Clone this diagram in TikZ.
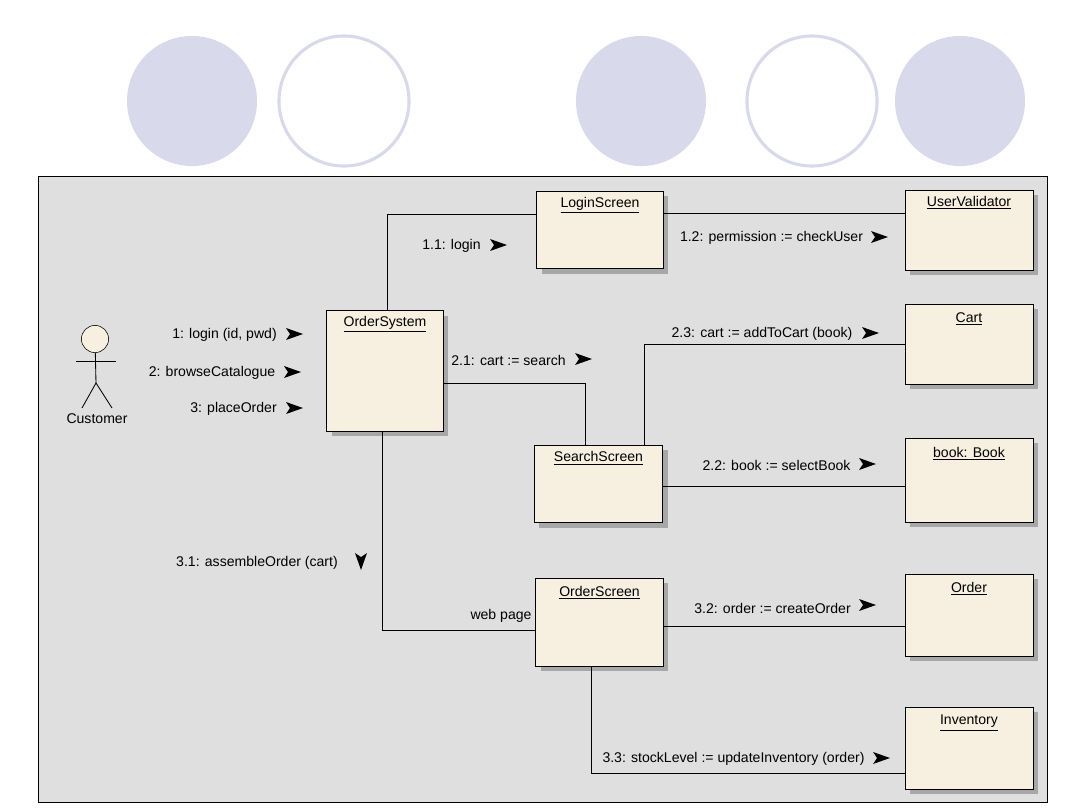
\documentclass[tikz,border=0pt]{standalone}
\usepackage{fontspec}
\setmainfont{Liberation Sans}
\usetikzlibrary{shadows}
\definecolor{slidecircle}{HTML}{D9D9EC}
\definecolor{panelgray}{HTML}{DFDFDF}
\definecolor{objectfill}{HTML}{F7F0E0}

\begin{document}
\begin{tikzpicture}[x=0.025cm,y=-0.025cm]
\tikzset{object/.style = {shape=rectangle,draw,line width=0.7pt,fill=objectfill,inner sep=0pt,
  drop shadow={shadow xshift=3.5pt,shadow yshift=-3.5pt,fill=black,opacity=0.25}}}
\tikzset{objname/.style = {anchor=north,inner sep=2.5pt,font=\fontsize{10}{11}\selectfont}}
\tikzset{msg/.style = {inner sep=0pt,yshift=-0.7pt,font=\fontsize{10}{11}\selectfont}}
\tikzset{edge/.style = {-,line width=0.6pt}}
\tikzset{disc/.style = {shape=circle,fill=slidecircle,inner sep=0pt,minimum size=3.25cm}}
\tikzset{ring/.style = {shape=circle,draw=slidecircle,line width=2.2pt,fill=white,inner sep=0pt,minimum size=3.25cm}}
\tikzset{msgtip/.pic = {\fill (0,-6) -- (17,0) -- (0,6) -- (4,0) -- cycle;}}
\useasboundingbox (0,0) rectangle (1080,810);
% slide circles
\node[disc] (c1) at (192,101) {};
\node[ring] (c2) at (344,101) {};
\node[disc] (c3) at (641,101) {};
\node[ring] (c4) at (812,101) {};
\node[disc] (c5) at (960,101) {};
% panel
\draw[fill=panelgray,line width=0.7pt] (38,176) rectangle (1047,802);
% actor
\node[circle,draw,fill=objectfill,inner sep=0pt,minimum size=0.68cm] (head) at (95,339) {};
\coordinate (hip) at (96,383);
\coordinate (armL) at (76,361);
\coordinate (armR) at (116,361);
\coordinate (footL) at (82,408);
\coordinate (footR) at (112,408);
\draw[edge] (head) -- (hip);
\draw[edge] (armL) -- (armR);
\draw[edge] (footL) -- (hip) -- (footR);
\node[msg] (customer) at (97,418) {Customer};
% objects
\node[object,minimum width=2.9cm,minimum height=3cm] (ordersystem) at (385,371) {};
\node[object,minimum width=3.15cm,minimum height=1.93cm] (loginscreen) at (600,230) {};
\node[object,minimum width=3.2cm,minimum height=2cm] (uservalidator) at (969,230) {};
\node[object,minimum width=3.2cm,minimum height=2cm] (cart) at (969,344) {};
\node[object,minimum width=3.2cm,minimum height=2.1cm] (book) at (969,480) {};
\node[object,minimum width=3.22cm,minimum height=1.93cm] (searchscreen) at (598.5,484) {};
\node[object,minimum width=3.18cm,minimum height=2.2cm] (orderscreen) at (599.5,622) {};
\node[object,minimum width=3.2cm,minimum height=2.05cm] (order) at (969,615) {};
\node[object,minimum width=3.2cm,minimum height=2.05cm] (inventory) at (969,748) {};
% object names
\node[objname,yshift=-1.5pt] (n1) at (ordersystem.north) {\underline{OrderSystem}};
\node[objname,yshift=-2pt] (n2) at (loginscreen.north) {\underline{LoginScreen}};
\node[objname,yshift=-2pt] (n3) at (uservalidator.north) {\underline{UserValidator}};
\node[objname,yshift=-3.5pt] (n4) at (cart.north) {\underline{Cart}};
\node[objname,yshift=-4pt] (n5) at (book.north) {\underline{book: Book}};
\node[objname,yshift=-2pt] (n6) at (searchscreen.north) {\underline{SearchScreen}};
\node[objname,yshift=-3.5pt] (n7) at (orderscreen.north) {\underline{OrderScreen}};
\node[objname,yshift=-3.5pt] (n8) at (order.north) {\underline{Order}};
\node[objname,yshift=-3.5pt] (n9) at (inventory.north) {\underline{Inventory}};
% links
\draw[edge] ([xshift=1.5pt]ordersystem.north) |- ([yshift=11pt]loginscreen.west);
\draw[edge] ([yshift=12pt]loginscreen.east) -- ([yshift=12pt]loginscreen.east -| uservalidator.west);
\draw[edge] ([yshift=-8.5pt]ordersystem.east) -| ([xshift=-9pt]searchscreen.north);
\draw[edge] ([xshift=33pt]searchscreen.north) |- (cart.west);
\draw[edge] ([yshift=-1.5pt]searchscreen.east) -- ([yshift=-1.5pt]searchscreen.east -| book.west);
\draw[edge] ([xshift=-2pt]ordersystem.south) |- ([yshift=-6pt]orderscreen.west);
\draw[edge] ([yshift=-3pt]orderscreen.east) -- ([yshift=-3pt]orderscreen.east -| order.west);
\draw[edge] ([xshift=-6pt]orderscreen.south) |- ([yshift=-18pt]inventory.west);
% messages
\node[msg] (m1) at (224.5,334) {1: login (id, pwd)};
\node[msg] (m2) at (212,372) {2: browseCatalogue};
\node[msg] (m3) at (233.5,408) {3: placeOrder};
\node[msg] (m11) at (451.5,245) {1.1: login};
\node[msg] (m12) at (771.5,237) {1.2: permission := checkUser};
\node[msg] (m21) at (508.5,359) {2.1: cart := search};
\node[msg] (m23) at (762,333) {2.3: cart := addToCart (book)};
\node[msg] (m22) at (776.5,464) {2.2: book := selectBook};
\node[msg] (m31) at (257,562) {3.1: assembleOrder (cart)};
\node[msg] (web) at (501,615) {web page};
\node[msg] (m32) at (772.5,607) {3.2: order := createOrder};
\node[msg] (m33) at (733.5,758) {3.3: stockLevel := updateInventory (order)};
% arrow marks
\pic at (286,334) {msgtip};
\pic at (284,372) {msgtip};
\pic at (286,408) {msgtip};
\pic at (490,245) {msgtip};
\pic at (871,237) {msgtip};
\pic at (575,359) {msgtip};
\pic at (862,333) {msgtip};
\pic at (859,464) {msgtip};
\pic[rotate=-90] at (361,553) {msgtip};
\pic at (859,605) {msgtip};
\pic at (873,758) {msgtip};
\end{tikzpicture}
\end{document}
